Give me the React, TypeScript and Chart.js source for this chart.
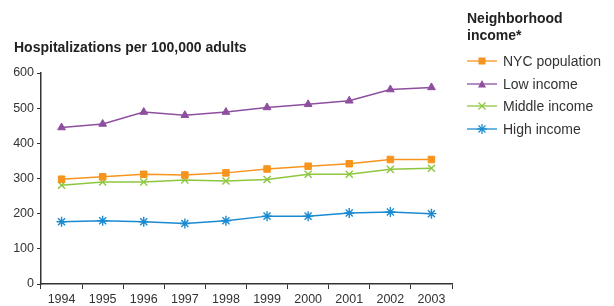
import React, { useEffect, useRef } from "react";
import { Chart, registerables } from "chart.js";

Chart.register(...registerables);

const years = ["1994", "1995", "1996", "1997", "1998", "1999", "2000", "2001", "2002", "2003"];
const nycPopulation = [298, 305, 312, 310, 316, 327, 335, 342, 354, 354];
const lowIncome = [445, 455, 489, 480, 489, 502, 511, 521, 553, 559];
const middleIncome = [281, 290, 290, 296, 293, 297, 312, 312, 326, 329];
const highIncome = [177, 180, 177, 172, 180, 193, 193, 202, 205, 200];
const yTicks = [0, 100, 200, 300, 400, 500, 600];

const chartTitle = "Hospitalizations per 100,000 adults";
const legendTitle = ["Neighborhood", "income*"];

const series = [
  { label: "NYC population", data: nycPopulation, color: "#F7941D", style: "rect", radius: 4.6 },
  { label: "Low income", data: lowIncome, color: "#8E4F9F", style: "triangle", radius: 4.5 },
  { label: "Middle income", data: middleIncome, color: "#8DC63F", style: "crossRot", radius: 5 },
  { label: "High income", data: highIncome, color: "#1A8BD1", style: "star", radius: 5 },
];

const FONT = "'Liberation Sans', Arial, Helvetica, sans-serif";

function Marker({ style, color }: { style: string; color: string }) {
  const c = 15;
  let shape: React.ReactNode = null;
  if (style === "rect") shape = <rect x={c - 3.5} y={5 - 3.5} width={7} height={7} fill={color} />;
  if (style === "triangle")
    shape = <polygon points={`${c - 4},${8.5} ${c + 4},${8.5} ${c},${1}`} fill={color} />;
  if (style === "crossRot")
    shape = (
      <g stroke={color} strokeWidth={1.3}>
        <line x1={c - 3.5} y1={1.5} x2={c + 3.5} y2={8.5} />
        <line x1={c - 3.5} y1={8.5} x2={c + 3.5} y2={1.5} />
      </g>
    );
  if (style === "star")
    shape = (
      <g stroke={color} strokeWidth={1.3}>
        <line x1={c - 3.5} y1={1.5} x2={c + 3.5} y2={8.5} />
        <line x1={c - 3.5} y1={8.5} x2={c + 3.5} y2={1.5} />
        <line x1={c} y1={0} x2={c} y2={10} />
        <line x1={c - 5} y1={5} x2={c + 5} y2={5} />
      </g>
    );
  return (
    <svg width={30} height={10} style={{ display: "block" }}>
      <line x1={0} y1={5} x2={30} y2={5} stroke={color} strokeWidth={1.3} />
      {shape}
    </svg>
  );
}

export default function App() {
  const canvasRef = useRef<HTMLCanvasElement | null>(null);

  useEffect(() => {
    const canvas = canvasRef.current;
    if (!canvas) return;
    const chart = new Chart(canvas, {
      type: "line",
      data: {
        labels: years,
        datasets: series.map((s) => ({
          label: s.label,
          data: s.data,
          borderColor: s.color,
          backgroundColor: s.color,
          borderWidth: 1.5,
          pointStyle: s.style as any,
          pointRadius: s.radius,
          pointBorderWidth: s.style === "crossRot" || s.style === "star" ? 1.4 : 1,
          pointBorderColor: s.color,
          pointBackgroundColor: s.color,
          tension: 0,
          fill: false,
        })),
      },
      options: {
        responsive: false,
        animation: false,
        maintainAspectRatio: false,
        layout: { padding: { left: 0, top: 73, right: 162, bottom: 0 } },
        plugins: { legend: { display: false }, tooltip: { enabled: false }, title: { display: false } },
        scales: {
          x: {
            type: "category",
            offset: true,
            grid: {
              display: true,
              offset: true,
              drawOnChartArea: false,
              drawTicks: true,
              tickLength: 5,
              color: "#333",
              tickColor: "#333",
              lineWidth: 1,
            },
            border: { display: true, color: "#333", width: 1.5 },
            ticks: {
              color: "#333",
              font: { family: FONT, size: 12.5 },
              padding: 3,
              maxRotation: 0,
              autoSkip: false,
            },
            afterFit: (scale: any) => {
              scale.height = 22;
            },
          },
          y: {
            min: 0,
            max: 600,
            afterBuildTicks: (scale: any) => {
              scale.ticks = yTicks.map((v) => ({ value: v }));
            },
            grid: {
              display: true,
              drawOnChartArea: false,
              drawTicks: true,
              tickLength: 4,
              color: "#333",
              tickColor: "#333",
            },
            border: { display: true, color: "#333", width: 1.5 },
            ticks: {
              color: "#333",
              font: { family: FONT, size: 12.5 },
              padding: 3,
            },
            afterFit: (scale: any) => {
              scale.width = 41;
            },
          },
        },
      },
    });
    return () => chart.destroy();
  }, []);

  return (
    <div style={{ position: "fixed", left: 0, top: 0, width: 614, height: 306, background: "#fff", fontFamily: FONT }}>
      <canvas ref={canvasRef} width={614} height={306} style={{ position: "absolute", left: 0, top: 0 }} />
      <div
        style={{
          position: "absolute",
          left: 14,
          top: 39,
          fontSize: 14,
          fontWeight: "bold",
          color: "#222",
          whiteSpace: "nowrap",
          lineHeight: "16px",
        }}
      >
        {chartTitle}
      </div>
      <div style={{ position: "absolute", left: 467, top: 10, color: "#222" }}>
        <div style={{ fontSize: 14, fontWeight: "bold", lineHeight: "17px" }}>
          {legendTitle.map((t) => (
            <div key={t}>{t}</div>
          ))}
        </div>
      </div>
      {series.map((s, i) => (
        <div
          key={s.label}
          style={{
            position: "absolute",
            left: 467,
            top: 52 + i * 22.7,
            height: 18,
            display: "flex",
            alignItems: "center",
            whiteSpace: "nowrap",
          }}
        >
          <Marker style={s.style} color={s.color} />
          <span style={{ marginLeft: 6, fontSize: 14, color: "#333" }}>{s.label}</span>
        </div>
      ))}
    </div>
  );
}
